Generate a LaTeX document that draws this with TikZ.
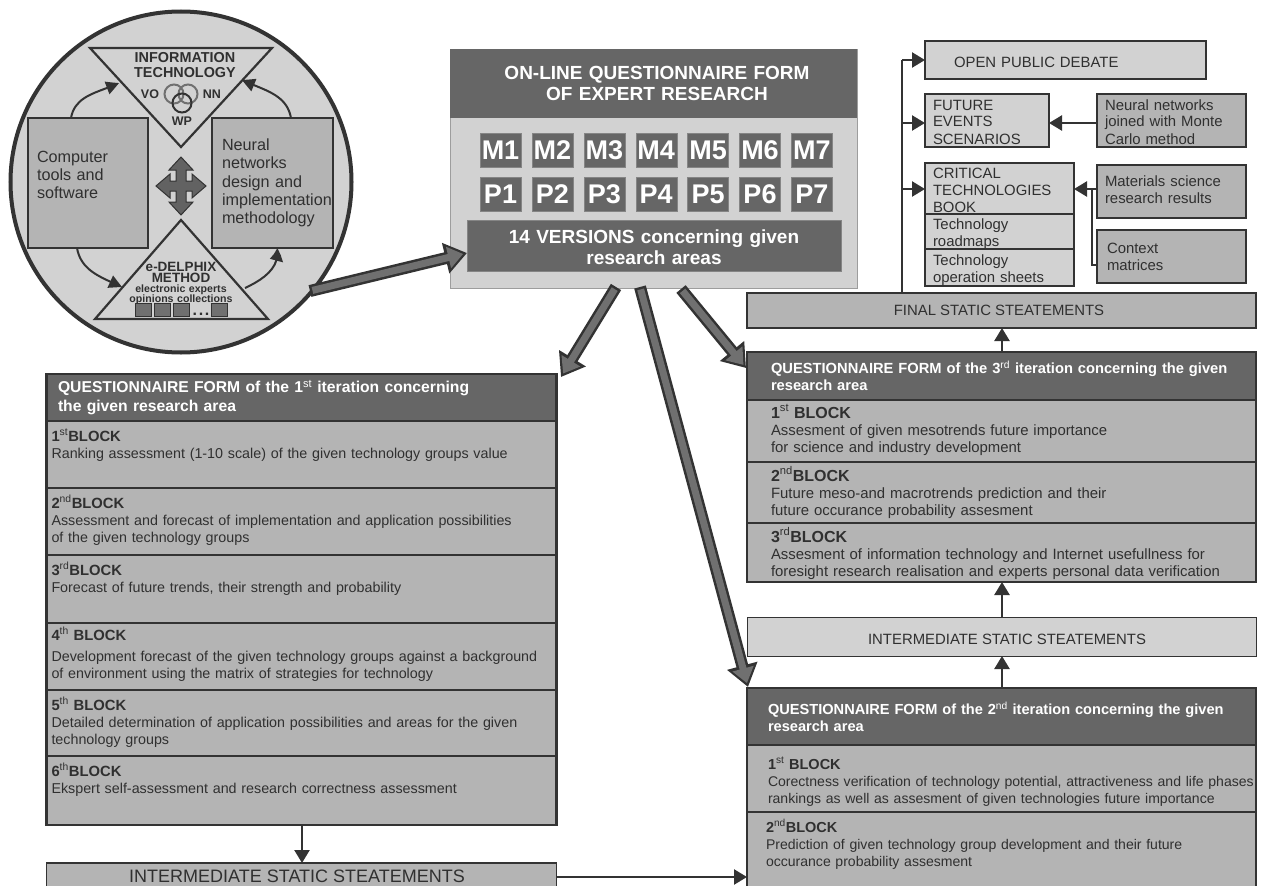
\documentclass[tikz,border=0pt]{standalone}
\usepackage{fontspec}
\setmainfont{Liberation Sans}
\usetikzlibrary{positioning, arrows.meta, bending}
\definecolor{edgegray}{HTML}{333333}
\definecolor{headgray}{HTML}{666666}
\definecolor{blockgray}{HTML}{B4B4B4}
\definecolor{lightgray}{HTML}{D2D2D2}
\definecolor{shaftgray}{HTML}{707070}
\definecolor{textgray}{HTML}{303030}
\tikzstyle{headbox}=[rectangle, draw=edgegray, line width=2.6pt, fill=headgray, text=white, outer sep=0pt,
					inner ysep=0pt, inner xsep=0pt, align=left, font=\fontsize{14.7}{17}\selectfont\bfseries]
\tikzstyle{blockbox}=[rectangle, draw=edgegray, line width=2.6pt, fill=blockgray, text=textgray, outer sep=0pt,
					inner ysep=0pt, inner xsep=0pt, align=left, font=\fontsize{14.3}{17}\selectfont]
\tikzstyle{plainbox}=[rectangle, draw=edgegray, line width=1.4pt, outer sep=0pt, text=textgray, inner sep=0pt,
					font=\fontsize{14.9}{17}\selectfont]
\newcommand{\blocktitle}[4][14.8]{{\fontsize{#1}{17}\selectfont\bfseries #2\textsuperscript{\mdseries #3}#4}}

\begin{document}
\begin{tikzpicture}[x=1pt, y=-1pt,
smallarrow/.style={-{Triangle[length=13pt,width=15pt]}, draw=edgegray, line width=2.4pt},
bendarrow/.style={-{Triangle[length=13pt,width=13pt,bend]}, draw=edgegray, line width=2pt},
bigarrow/.style={-{Triangle[length=22pt,width=30pt]}, draw=edgegray, line width=12pt,
	postaction={draw=shaftgray, -{Triangle[length=15pt,width=21pt]}, line width=7pt, shorten <=2.5pt, shorten >=4pt}},
versionbox/.style={rectangle, fill=headgray, draw=headgray!80, text=white, minimum width=41pt, minimum height=34pt, inner sep=0pt,
	font=\fontsize{27}{27}\selectfont\bfseries},
darktext/.style={text=textgray, inner sep=0pt, align=center, font=\fontsize{14.4}{15}\selectfont\bfseries},
lefttext/.style={text=textgray, inner sep=0pt, align=center, font=\fontsize{12.5}{15}\selectfont\bfseries},
smallsquare/.style={rectangle, draw=edgegray, fill=shaftgray, minimum width=16pt, minimum height=13pt, inner sep=0pt},
ring/.style={circle, line width=2pt, minimum size=19pt, inner sep=0pt},
]
\clip (0,0) rectangle (1262,886);

%Circle
\node[circle, draw=edgegray, line width=4pt, fill=lightgray, minimum size=341pt, inner sep=0pt] (circle_node) at (181,182) {};
\draw[draw=edgegray, line width=2.2pt, fill=lightgray] (90,48) coordinate (it_left) -- (272,48) coordinate (it_right) -- (181,147) coordinate (it_apex) -- cycle;
\draw[draw=edgegray, line width=2.2pt, fill=lightgray] (181,220) coordinate (delphi_apex) -- (268,319) coordinate (delphi_right) -- (95,319) coordinate (delphi_left) -- cycle;
\node[plainbox, line width=2.2pt, fill=blockgray, minimum width=120pt, minimum height=130pt, text width=102pt, align=left, font=\fontsize{16.2}{18.4}\selectfont, text height=44pt, text depth=86pt] (computer_node) at (88,183) {Computer\\tools and\\software};
\node[plainbox, line width=2.2pt, fill=blockgray, minimum width=121pt, minimum height=130pt, text width=101pt, align=left, font=\fontsize{16.2}{18.4}\selectfont] (neural_node) at (272.5,183) {Neural\\networks\\design and\\\mbox{implementation}\\methodology};

\node[darktext] (info_node) at (185,65) {INFORMATION\\TECHNOLOGY};
\node[lefttext] (vo_node) at (150,94) {VO};
\node[lefttext] (nn_node) at (212,94) {NN};
\node[lefttext] (wp_node) at (182,121) {WP};
\node[ring, draw=edgegray!70] (ring_a_node) at (174,94) {};
\node[ring, draw=edgegray!70] (ring_b_node) at (188,94) {};
\node[ring, draw=edgegray] (ring_c_node) at (182,103) {};

\node[darktext, font=\fontsize{13.5}{11.8}\selectfont\bfseries, text width=90pt, text height=9pt, text depth=12pt] (delphi_node) at (181,272.5) {e-DELPHIX\\METHOD};
\node[lefttext, font=\fontsize{10.6}{9.5}\selectfont\bfseries, text width=110pt, text height=7pt, text depth=12pt] (opinions_node) at (181,294.5) {electronic experts\\opinions collections};
\node[smallsquare] (sq_a_node) at (143,309.5) {};
\node[smallsquare] (sq_b_node) at (162,309.5) {};
\node[smallsquare] (sq_c_node) at (181,309.5) {};
\node[lefttext, font=\fontsize{16}{16}\selectfont\bfseries, text height=3pt, text depth=0pt, anchor=base] (dots_node) at (201,315.5) {.\hspace{1.6pt}.\hspace{1.6pt}.};
\node[smallsquare] (sq_d_node) at (219.5,309.5) {};

\draw[draw=edgegray, line width=1pt, fill=shaftgray!110] (181,157) -- (193,170) -- (186,170) -- (186,181) -- (192,181) -- (192,174) -- (206,186) -- (192,198) -- (192,191) -- (186,191) -- (186,202) -- (193,202) -- (181,215) -- (169,202) -- (176,202) -- (176,191) -- (170,191) -- (170,198) -- (156,186) -- (170,174) -- (170,181) -- (176,181) -- (176,170) -- (169,170) -- cycle;

%Centre form
\node[rectangle, fill=lightgray, draw=lightgray!75!black, minimum width=407pt, minimum height=239pt, inner sep=0pt] (online_node) at (653.5,168.5) {};
\node[rectangle, fill=headgray, text=white, minimum width=407pt, inner sep=0pt, text width=407pt, align=center, text height=30pt, text depth=39pt, font=\fontsize{19}{21}\selectfont\bfseries] (online_head_node) at (653.5,83.5) {\hspace*{7pt}ON-LINE QUESTIONNAIRE FORM\\\hspace*{7pt}OF EXPERT RESEARCH};

\node[versionbox] (m1_node) at (500.5,150) {M1};
\node[versionbox] (m2_node) [right=10.5pt of m1_node] {M2};
\node[versionbox] (m3_node) [right=10.5pt of m2_node] {M3};
\node[versionbox] (m4_node) [right=10.5pt of m3_node] {M4};
\node[versionbox] (m5_node) [right=10.5pt of m4_node] {M5};
\node[versionbox] (m6_node) [right=10.5pt of m5_node] {M6};
\node[versionbox] (m7_node) [right=10.5pt of m6_node] {M7};
\node[versionbox] (p1_node) [below=10pt of m1_node] {P1};
\node[versionbox] (p2_node) [right=10.5pt of p1_node] {P2};
\node[versionbox] (p3_node) [right=10.5pt of p2_node] {P3};
\node[versionbox] (p4_node) [right=10.5pt of p3_node] {P4};
\node[versionbox] (p5_node) [right=10.5pt of p4_node] {P5};
\node[versionbox] (p6_node) [right=10.5pt of p5_node] {P6};
\node[versionbox] (p7_node) [right=10.5pt of p6_node] {P7};
\node[rectangle, fill=headgray, draw=headgray!80, text=white, text width=374pt, inner sep=0pt, align=center, text height=23pt, text depth=28pt, font=\fontsize{19}{21}\selectfont\bfseries] (versions_node) at (654,245.5) {14 VERSIONS concerning given\\research areas};

%Top right boxes
\node[plainbox, fill=lightgray, text width=281pt, text height=26pt, text depth=12pt, align=left] (debate_node) at (1065.5,60) {\hspace*{29pt}OPEN PUBLIC DEBATE};
\node[plainbox, fill=lightgray, minimum width=124pt, text width=108pt, text height=16pt, text depth=37pt, align=left] (future_node) at (987,120.5) {FUTURE\\EVENTS\\SCENARIOS};
\node[plainbox, fill=lightgray, minimum width=149pt, text width=133pt, text height=15pt, text depth=36pt, align=left] (critical_node) at (999.5,188.5) {CRITICAL\\TECHNOLOGIES\\BOOK};
\node[plainbox, fill=lightgray, minimum width=149pt, text width=133pt, text height=15pt, text depth=20pt, align=left] (roadmaps_node) [below=0pt of critical_node] {Technology\\roadmaps};
\node[plainbox, fill=lightgray, minimum width=149pt, text width=133pt, text height=16pt, text depth=21pt, align=left] (sheets_node) [below=0pt of roadmaps_node] {Technology\\operation sheets};
\node[plainbox, fill=blockgray, minimum width=149pt, text width=133pt, text height=16pt, text depth=37pt, align=left] (monte_node) at (1171.5,120.5) {Neural networks\\joined with Monte\\Carlo method};
\node[plainbox, fill=blockgray, minimum width=149pt, text width=133pt, text height=21pt, text depth=32pt, align=left] (materials_node) at (1171.5,191.5) {Materials science\\research results};
\node[plainbox, fill=blockgray, minimum width=149pt, text width=129pt, text height=23pt, text depth=30pt, align=left] (context_node) at (1171.5,256.5) {Context\\matrices};
\node[plainbox, fill=blockgray, minimum width=509pt, text height=22pt, text depth=13pt] (final_node) at (1001.5,310.5) {\hspace*{-5pt}FINAL STATIC STEATEMENTS};

%Third iteration
\node[headbox, minimum width=509pt, minimum height=48pt, text width=461pt] (q3_head_node) at (1001.5,376) {QUESTIONNAIRE FORM \mbox{of the 3\textsuperscript{\mdseries rd} iteration concerning the given}\\research area};
\node[blockbox, minimum width=509pt, text width=461pt, text height=18pt, text depth=44pt, font=\fontsize{14.9}{17}\selectfont] (q3_a_node) [below=0pt of q3_head_node] {\blocktitle[16]{1}{st}{ BLOCK}\\Assesment of given mesotrends future importance\\for science and industry development};
\node[blockbox, minimum width=509pt, text width=461pt, text height=19pt, text depth=42pt, font=\fontsize{14.9}{17}\selectfont] (q3_b_node) [below=0pt of q3_a_node] {\blocktitle[16]{2}{nd}{BLOCK}\\Future meso-and macrotrends prediction and their\\future occurance probability assesment};
\node[blockbox, minimum width=509pt, text width=461pt, text height=19pt, text depth=40pt, font=\fontsize{14.9}{17}\selectfont] (q3_c_node) [below=0pt of q3_b_node] {\blocktitle[16]{3}{rd}{BLOCK}\\Assesment of information technology and Internet usefullness for\\foresight research realisation and experts personal data verification};
\node[plainbox, fill=lightgray, line width=1pt, minimum width=509pt, text height=27pt, text depth=12pt] (inter_b_node) at (1001.5,636.5) {\hspace*{11pt}INTERMEDIATE STATIC STEATEMENTS};

%Second iteration
\node[headbox, minimum width=509pt, minimum height=57pt, text width=467pt, font=\fontsize{14.6}{17}\selectfont\bfseries] (q2_head_node) at (1001.5,716.5) {QUESTIONNAIRE FORM \mbox{of the 2\textsuperscript{\mdseries nd} iteration concerning the given}\\research area};
\node[blockbox, minimum width=509pt, text width=467pt, text height=24pt, text depth=43pt, font=\fontsize{14.05}{17}\selectfont] (q2_a_node) [below=0pt of q2_head_node] {\blocktitle[14.5]{1}{st}{ BLOCK}\\\mbox{Corectness verification of technology potential, attractiveness and life phases}\\rankings as well as assesment of given technologies future importance};
\node[blockbox, minimum width=509pt, text width=471pt, text height=20pt, text depth=70pt, font=\fontsize{14.05}{17}\selectfont] (q2_b_node) [below=0pt of q2_a_node] {\blocktitle[14.5]{2}{nd}{BLOCK}\\Prediction of given technology group development and their future\\occurance probability assesment};

%First iteration
\node[headbox, minimum width=510pt, minimum height=47pt, text width=487pt, font=\fontsize{15.7}{19}\selectfont\bfseries] (q1_head_node) at (301.5,397.5) {QUESTIONNAIRE FORM of the 1\textsuperscript{\mdseries st} iteration concerning\\the given research area};
\node[blockbox, minimum width=510pt, text width=500pt, text height=20pt, text depth=47pt] (q1_a_node) [below=0pt of q1_head_node] {\blocktitle{1}{st}{BLOCK}\\Ranking assessment (1-10 scale) of the given technology groups value};
\node[blockbox, minimum width=510pt, text width=500pt, text height=20pt, text depth=47pt] (q1_b_node) [below=0pt of q1_a_node] {\blocktitle{2}{nd}{BLOCK}\\Assessment and forecast of implementation and application possibilities\\of the given technology groups};
\node[blockbox, minimum width=510pt, text width=500pt, text height=20pt, text depth=48pt] (q1_c_node) [below=0pt of q1_b_node] {\blocktitle{3}{rd}{BLOCK}\\Forecast of future trends, their strength and probability};
\node[blockbox, minimum width=510pt, text width=500pt, text height=17pt, text depth=50pt] (q1_d_node) [below=0pt of q1_c_node] {\blocktitle{4}{th}{ BLOCK}\\[4pt]Development forecast of the given technology groups against a background\\of environment using the matrix of strategies for technology};
\node[blockbox, minimum width=510pt, text width=500pt, text height=20pt, text depth=46pt] (q1_e_node) [below=0pt of q1_d_node] {\blocktitle{5}{th}{ BLOCK}\\Detailed determination of application possibilities and areas for the given\\technology groups};
\node[blockbox, minimum width=510pt, text width=500pt, text height=20pt, text depth=49pt] (q1_f_node) [below=0pt of q1_e_node] {\blocktitle{6}{th}{BLOCK}\\Ekspert self-assessment and research correctness assessment};
\node[plainbox, fill=blockgray, minimum width=510pt, text height=19pt, text depth=21pt, font=\fontsize{18}{20}\selectfont] (inter_a_node) at (301.5,883) {\hspace*{-9pt}INTERMEDIATE STATIC STEATEMENTS};

%Lines
\coordinate (trunk_base) at (902,293);
\coordinate (trunk_debate) at (902,60);
\coordinate (trunk_future) at (902,123);
\coordinate (trunk_critical) at (902,189);
\coordinate (context_knee) at (1092,265);
\coordinate (context_join) at (1092,189);
\coordinate (right_axis) at (1002,0);
\coordinate (left_axis) at (302,0);
\coordinate (bottom_row) at (0,877);
\coordinate (it_a_in) at (119,83);
\coordinate (it_b_in) at (242,80);
\coordinate (delphi_a_in) at (122,287);
\coordinate (delphi_b_out) at (245,288);
\coordinate (circle_out) at (310,291);
\coordinate (versions_in) at (467,253);
\coordinate (online_a) at (616,287);
\coordinate (online_b) at (640,287);
\coordinate (online_c) at (681,289);
\coordinate (q1_in) at (561,377);
\coordinate (q2_in) at (748,687);
\coordinate (q3_in) at (746,368);

\draw[bendarrow] (computer_node.north-|71,0) to[out=80, in=205] (it_a_in);
\draw[bendarrow] (neural_node.north-|291,0) to[out=100, in=-25] (it_b_in);
\draw[bendarrow] (computer_node.south-|77,0) to[out=-80, in=155] (delphi_a_in);
\draw[bendarrow] (delphi_b_out) to[out=25, in=-80] (neural_node.south-|277,0);

\draw[bigarrow] (circle_out) -- (versions_in);
\draw[bigarrow] (online_a) -- (q1_in);
\draw[bigarrow] (online_b) -- (q2_in);
\draw[bigarrow] (online_c) -- (q3_in);

\draw[draw=edgegray, line width=2.4pt] (trunk_base) -- (trunk_debate);
\draw[smallarrow] (trunk_debate) -- (debate_node.west);
\draw[smallarrow] (trunk_future) -- (trunk_future-|future_node.west);
\draw[smallarrow] (trunk_critical) -- (trunk_critical-|critical_node.west);
\draw[smallarrow] (trunk_future-|monte_node.west) -- (trunk_future-|future_node.east);
\draw[smallarrow] (trunk_critical-|materials_node.west) -- (trunk_critical-|critical_node.east);
\draw[draw=edgegray, line width=2.4pt] (context_knee-|context_node.west) -- (context_knee) -- (context_join);

\draw[smallarrow] (q3_head_node.north-|right_axis) -- (final_node.south-|right_axis);
\draw[smallarrow] (inter_b_node.north-|right_axis) -- (q3_c_node.south-|right_axis);
\draw[smallarrow] (q2_head_node.north-|right_axis) -- (inter_b_node.south-|right_axis);
\draw[smallarrow] (q1_f_node.south-|left_axis) -- (inter_a_node.north-|left_axis);
\draw[smallarrow] (bottom_row-|inter_a_node.east) -- (bottom_row-|q2_b_node.west);

\end{tikzpicture}
\end{document}
